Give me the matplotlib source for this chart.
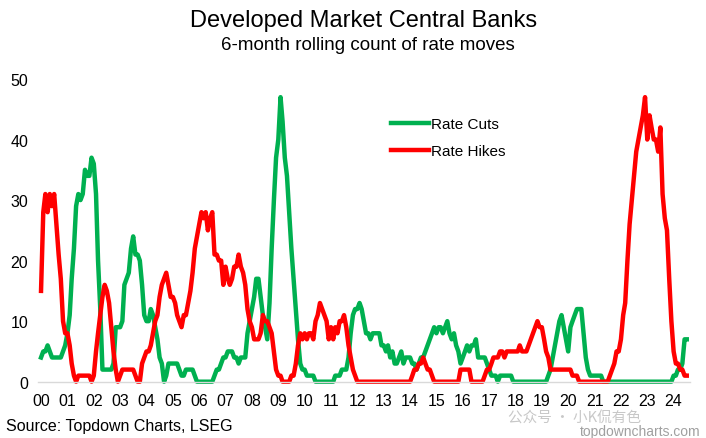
import pandas as pd
import matplotlib.pyplot as plt
import matplotlib.dates as mdates

plt.rcParams['font.family'] = ['Liberation Sans', 'DejaVu Sans']

# 6-month rolling count of rate moves, monthly from Jan 2000 to Jul 2024
rate_cuts = [
    4, 5, 5, 6, 5, 4, 4, 4, 4, 4, 5, 6,          # 2000
    8, 11, 17, 22, 29, 31, 30, 31, 35, 34, 34, 37,  # 2001
    36, 31, 20, 12, 2, 2, 2, 2, 2, 3, 9, 9,       # 2002
    9, 10, 16, 17, 18, 22, 24, 21, 21, 20, 16, 11,  # 2003
    10, 10, 12, 11, 9, 7, 4, 3, 0, 1, 3, 3,       # 2004
    3, 3, 3, 2, 1, 1, 2, 2, 2, 2, 1, 0,           # 2005
    0, 0, 0, 0, 0, 0, 0, 1, 2, 2, 3, 4,           # 2006
    4, 5, 5, 5, 4, 4, 3, 4, 4, 4, 8, 10,          # 2007
    12, 14, 17, 17, 14, 11, 9, 7, 13, 22, 30, 37,  # 2008
    40, 47, 43, 37, 34, 28, 22, 17, 12, 7, 3, 2,  # 2009
    2, 1, 1, 1, 1, 0, 0, 0, 0, 0, 0, 0,           # 2010
    0, 0, 1, 1, 1, 2, 2, 2, 4, 8, 11, 12,         # 2011
    12, 13, 12, 10, 8, 8, 7, 8, 8, 8, 8, 6,       # 2012
    6, 5, 6, 4, 5, 3, 3, 4, 5, 3, 4, 4,           # 2013
    4, 3, 3, 2, 3, 4, 4, 5, 6, 7, 8, 9,           # 2014
    8, 9, 9, 8, 9, 10, 8, 7, 8, 6, 5, 3,          # 2015
    4, 5, 6, 5, 6, 6, 7, 4, 4, 4, 4, 3,           # 2016
    2, 1, 1, 1, 0, 1, 1, 1, 1, 1, 1, 0,           # 2017
    0, 0, 0, 0, 0, 0, 0, 0, 0, 0, 0, 0,           # 2018
    0, 0, 0, 1, 2, 4, 6, 8, 10, 11, 9, 7,         # 2019
    5, 9, 10, 11, 12, 12, 12, 8, 4, 2, 1, 1,      # 2020
    1, 1, 1, 1, 0, 0, 0, 0, 0, 0, 0, 0,           # 2021
    0, 0, 0, 0, 0, 0, 0, 0, 0, 0, 0, 0,           # 2022
    0, 0, 0, 0, 0, 0, 0, 0, 0, 0, 0, 0,           # 2023
    1, 1, 2, 2, 3, 7, 7,                          # 2024
]
rate_hikes = [
    15, 28, 31, 28, 31, 29, 31, 26, 21, 17, 10, 8,  # 2000
    8, 6, 3, 1, 0, 1, 1, 1, 1, 1, 1, 0,           # 2001
    1, 5, 8, 11, 14, 16, 15, 13, 9, 5, 2, 0,      # 2002
    1, 2, 2, 2, 2, 2, 2, 1, 0, 0, 3, 4,           # 2003
    5, 5, 6, 8, 10, 11, 14, 16, 17, 18, 16, 14,   # 2004
    14, 13, 11, 10, 9, 11, 11, 13, 15, 18, 22, 24,  # 2005
    26, 28, 27, 28, 25, 27, 28, 21, 21, 20, 20, 16,  # 2006
    19, 17, 16, 17, 19, 19, 21, 19, 18, 16, 12, 10,  # 2007
    9, 7, 7, 7, 8, 11, 10, 10, 9, 8, 5, 2,        # 2008
    1, 1, 0, 0, 0, 0, 1, 1, 3, 6, 8, 7,           # 2009
    8, 7, 8, 8, 7, 10, 11, 13, 12, 11, 10, 7,     # 2010
    9, 7, 9, 8, 10, 10, 11, 9, 6, 4, 2, 1,        # 2011
    0, 0, 0, 0, 0, 0, 0, 0, 0, 0, 0, 0,           # 2012
    0, 0, 0, 0, 0, 0, 0, 0, 0, 0, 0, 0,           # 2013
    0, 1, 2, 2, 3, 3, 4, 3, 2, 2, 1, 0,           # 2014
    0, 0, 0, 0, 0, 0, 0, 0, 0, 0, 0, 2,           # 2015
    2, 2, 2, 2, 0, 0, 0, 0, 0, 0, 1, 2,           # 2016
    2, 3, 4, 4, 4, 5, 5, 4, 5, 5, 5, 5,           # 2017
    5, 5, 6, 5, 5, 5, 6, 7, 8, 9, 10, 9,          # 2018
    9, 7, 5, 4, 2, 2, 2, 2, 2, 2, 2, 2,           # 2019
    2, 2, 1, 1, 1, 0, 0, 0, 0, 0, 0, 0,           # 2020
    0, 0, 0, 0, 0, 0, 0, 1, 2, 3, 5, 5,           # 2021
    7, 11, 13, 20, 26, 30, 34, 38, 40, 42, 44, 47,  # 2022
    40, 44, 42, 40, 40, 38, 42, 31, 27, 25, 17, 10,  # 2023
    5, 3, 3, 2, 2, 1, 1,                          # 2024
]
dates = pd.date_range('2000-01-01', periods=len(rate_cuts), freq='MS')
year_ticks = pd.date_range('2000-01-01', '2024-01-01', freq='YS')

GREEN = '#00B050'
RED = '#FF0000'

fig = plt.figure(figsize=(7.06, 4.39), dpi=100)
ax = fig.add_axes([38 / 706, 1 - 382.7 / 439, (690 - 38) / 706, (382.7 - 80) / 439])

ax.plot(dates, rate_cuts, color=GREEN, lw=3.2, label='Rate Cuts', clip_on=False, solid_joinstyle='round')
ax.plot(dates, rate_hikes, color=RED, lw=3.2, label='Rate Hikes', clip_on=False, solid_joinstyle='round')

ax.set_ylim(0, 50)
ax.set_yticks(range(0, 51, 10))
ax.set_xlim(pd.Timestamp('2000-01-01') - pd.Timedelta(days=42), pd.Timestamp('2024-07-01') + pd.Timedelta(days=45))
ax.set_xticks(year_ticks)
ax.xaxis.set_major_formatter(mdates.DateFormatter('%y'))
ax.tick_params(axis='both', length=0, labelsize=11.5, colors='#000000')
ax.tick_params(axis='y', pad=7)
ax.tick_params(axis='x', pad=8)

for side in ['top', 'right', 'left']:
    ax.spines[side].set_visible(False)
ax.spines['bottom'].set_color('#D9D9D9')
ax.spines['bottom'].set_linewidth(1)

ax.legend(loc='upper left', bbox_to_anchor=(391 / 706, 1 - 118 / 439), bbox_transform=fig.transFigure,
          frameon=False, fontsize=11, handlelength=2.5, handletextpad=0.15, labelspacing=0.85,
          borderpad=0, borderaxespad=0)

fig.text(364 / 706, 1 - 27 / 439, 'Developed Market Central Banks', ha='center', va='baseline', fontsize=17)
fig.text(368 / 706, 1 - 50 / 439, '6-month rolling count of rate moves', ha='center', va='baseline', fontsize=13.5)
fig.text(6 / 706, 1 - 431 / 439, 'Source: Topdown Charts, LSEG', ha='left', va='baseline', fontsize=11.5)
fig.text(700 / 706, 1 - 436 / 439, 'topdowncharts.com', ha='right', va='baseline', fontsize=10, color='#A0A0A0')
fig.text(508 / 706, 1 - 423 / 439, '公众号 · 小K侃有色', ha='left', va='baseline', fontsize=10.5, color='#C8C8C8',
         family=['Noto Sans CJK SC', 'DejaVu Sans'])

fig.savefig('out.png', dpi=100)
